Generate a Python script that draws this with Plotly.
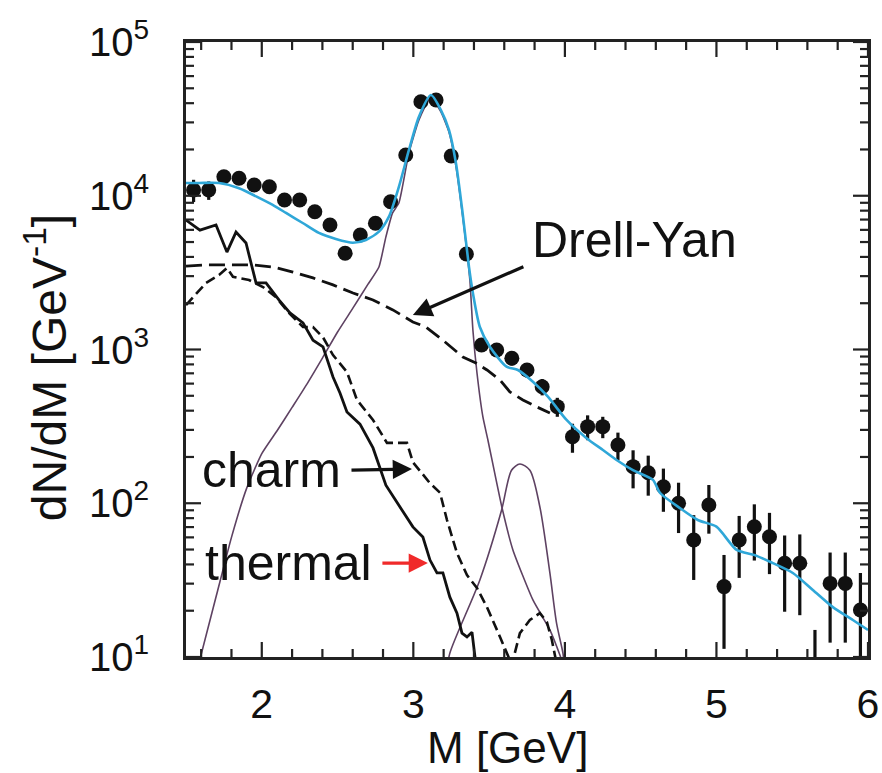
import plotly.graph_objects as go
import numpy as np

# ---- measured dimuon spectrum ----
m_data = [1.55, 1.65, 1.75, 1.85, 1.95, 2.05, 2.15, 2.25, 2.35, 2.45, 2.55, 2.65, 2.75, 2.85,
          2.95, 3.05, 3.15, 3.25, 3.35, 3.45, 3.55, 3.65, 3.75, 3.85, 3.95, 4.05, 4.15, 4.25,
          4.35, 4.45, 4.55, 4.65, 4.75, 4.85, 4.95, 5.05, 5.15, 5.25, 5.35, 5.45, 5.55, 5.65,
          5.75, 5.85, 5.95]
n_data = [10900, 10900, 13300, 13000, 11750, 11450, 9380, 9380, 7870, 6450, 4230, 5550, 6620, 9140,
          18400, 40900, 41950, 18150, 4180, 1069, 993, 877, 736, 573, 425, 271, 315, 315,
          239, 173, 158, 128, 100, 57.7, 97.4, 28.7, 57.7, 70.4, 60.6, 40.7, 40.7, 8,
          30.1, 30.1, 20.2]
n_err = [1800, 1500, 900, 800, 600, 600, 500, 500, 450, 400, 350, 350, 400, 500,
         900, 1500, 1500, 900, 300, 100, 90, 90, 80, 70, 60, 58, 58, 50,
         49, 48, 46, 40, 36, 26, 34, 17.4, 25, 28, 26, 21, 22, 7,
         17.7, 17.7, 15]

# ---- total fit ----
m_total = [1.50, 1.586, 1.718, 1.85, 1.966, 2.072, 2.16, 2.27, 2.377, 2.489, 2.60, 2.687, 2.773,
           2.839, 2.905, 2.971, 3.037, 3.116, 3.182, 3.235, 3.281, 3.325, 3.367, 3.393, 3.439,
           3.505, 3.615, 3.69, 3.789, 3.888, 4.011, 4.143, 4.251, 4.341, 4.449, 4.581, 4.627,
           4.759, 4.877, 5.0, 5.133, 5.253, 5.372, 5.504, 5.636, 5.768, 5.90, 6.0]
n_total = [12100, 12100, 12100, 11200, 9860, 8710, 7730, 6650, 5730, 5240, 4950, 5160, 5840,
           7310, 11460, 19850, 32700, 45200, 36100, 26800, 16350, 7730, 3460, 2330, 1400,
           1042, 773, 736, 617, 493, 348, 265, 222, 191, 164, 142, 117,
           93, 77.8, 70.4, 49.7, 46, 40.8, 35.2, 27.3, 21.1, 17.4, 15]

# ---- J/psi line shape ----
m_jpsi = [1.59, 1.70, 1.80, 1.90, 2.00, 2.10, 2.20, 2.30, 2.40, 2.50, 2.60, 2.70, 2.773, 2.819, 2.863,
          2.905, 2.971, 3.037, 3.116, 3.182, 3.235, 3.281, 3.327, 3.373, 3.393, 3.42, 3.459, 3.492,
          3.584, 3.657, 3.789, 3.901, 3.967, 4.0]
n_jpsi = [9.5, 25, 60, 125, 210, 295, 420, 600, 880, 1300, 1850, 2650, 3440, 5400, 7730,
          9000, 19000, 31100, 43800, 35100, 26000, 15600, 7160, 2830, 1340, 703, 364, 258,
          94.6, 49.7, 23.5, 15, 10.3, 8.3]

# ---- psi' line shape ----
m_psi2 = [3.22, 3.241, 3.439, 3.582, 3.648, 3.703, 3.769, 3.835, 3.901, 3.945, 3.987, 4.0]
n_psi2 = [8, 10.6, 31.7, 90, 164, 180, 164, 94.6, 35.2, 16.6, 10.6, 8]

# ---- thermal (solid) ----
m_therm = [1.50, 1.592, 1.698, 1.770, 1.830, 1.896, 1.962, 2.028, 2.113, 2.186, 2.272, 2.338,
           2.404, 2.470, 2.516, 2.562, 2.648, 2.734, 2.819, 2.912, 2.997, 3.063, 3.110, 3.156,
           3.195, 3.241, 3.288, 3.321, 3.354, 3.387, 3.413]
n_therm = [6950, 5980, 6450, 4300, 5800, 4930, 2710, 2710, 2100, 1730, 1490, 1150,
           1040, 662, 521, 392, 327, 229, 131, 94.6, 70.2, 60.3, 42.7, 35.2,
           35.2, 24.5, 19.3, 14.3, 13.5, 14.5, 8.9]

# ---- open charm (dashed) ----
m_charm = [1.50, 1.546, 1.632, 1.718, 1.770, 1.810, 1.916, 2.008, 2.094, 2.179, 2.272, 2.338,
           2.404, 2.470, 2.562, 2.628, 2.734, 2.826, 2.912, 2.958, 2.997, 3.110, 3.176, 3.222,
           3.288, 3.354, 3.420, 3.486, 3.572, 3.618, 3.650, 3.703, 3.769, 3.835, 3.881, 3.914,
           3.941]
n_charm = [1945, 2190, 2710, 3050, 3390, 2970, 2830, 2550, 2190, 1730, 1400, 1400,
           1200, 920, 714, 470, 348, 247, 247, 247, 185, 135, 117, 77.8,
           47.4, 34.1, 28.1, 21.1, 13.5, 10.6, 8.9, 14.3, 17.4, 19.3, 16.9, 12.9,
           9.5]

# ---- Drell-Yan (dashed) ----
m_dy = [1.50, 1.632, 1.784, 1.942, 2.074, 2.206, 2.338, 2.470, 2.602, 2.734, 2.865, 2.997,
        3.083, 3.195, 3.327, 3.413, 3.486, 3.572, 3.637, 3.723, 3.815, 3.901]
n_dy = [3490, 3550, 3550, 3550, 3440, 3190, 2920, 2630, 2330, 2100, 1810, 1510,
        1400, 1150, 893, 817, 736, 634, 530, 470, 423, 386]

# ---- axis ticks ----
x_range = [1.5, 6.0]
y_range_log = [1, 5]
x_major = [2, 3, 4, 5, 6]
x_minor = [round(1.6 + 0.2 * i, 1) for i in range(22) if round(1.6 + 0.2 * i, 1) not in x_major]
y_major = [10, 100, 1000, 10000, 100000]
y_minor = [d * 10 ** e for e in range(1, 5) for d in range(2, 10)]
y_ticktext = ["10<sup>1</sup>", "10<sup>2</sup>", "10<sup>3</sup>", "10<sup>4</sup>", "10<sup>5</sup>"]

W, H = 882, 773
MARGIN = dict(l=186, r=14, t=42, b=116)

FONT = "Liberation Sans, Arial, sans-serif"
INK = "#111111"
FRAME = "#222222"
CYAN = "#2fa7d8"
THIN = "#5e4262"

fig = go.Figure()

fig.add_trace(go.Scatter(x=m_jpsi, y=n_jpsi, mode="lines", line=dict(color=THIN, width=1.6, shape="spline", smoothing=0.5)))
fig.add_trace(go.Scatter(x=m_psi2, y=n_psi2, mode="lines", line=dict(color=THIN, width=1.6, shape="spline", smoothing=0.8)))
fig.add_trace(go.Scatter(x=m_dy, y=n_dy, mode="lines", line=dict(color=INK, width=2.8, dash="16px,7px")))
fig.add_trace(go.Scatter(x=m_charm, y=n_charm, mode="lines", line=dict(color=INK, width=2.6, dash="10px,5px")))
fig.add_trace(go.Scatter(x=m_therm, y=n_therm, mode="lines", line=dict(color=INK, width=2.8)))
fig.add_trace(go.Scatter(x=m_data, y=n_data, mode="markers",
                         marker=dict(color=INK, size=15, line=dict(width=0)),
                         error_y=dict(type="data", array=n_err, color=INK, thickness=3.2, width=0)))
fig.add_trace(go.Scatter(x=m_total, y=n_total, mode="lines", line=dict(color=CYAN, width=2.6, shape="spline", smoothing=0.7)))

L10 = np.log10

# inward tick marks on all four sides, drawn as short line segments
x_per_px = (x_range[1] - x_range[0]) / (W - MARGIN["l"] - MARGIN["r"])
ylog_per_px = (y_range_log[1] - y_range_log[0]) / (H - MARGIN["t"] - MARGIN["b"])
tx, ty = [], []
for v, n in [(v, 15) for v in x_major] + [(v, 8) for v in x_minor]:
    tx += [v, v, None, v, v, None]
    ty += [10 ** y_range_log[0], 10 ** (y_range_log[0] + n * ylog_per_px), None,
           10 ** y_range_log[1], 10 ** (y_range_log[1] - n * ylog_per_px), None]
for v, n in [(v, 15) for v in y_major] + [(v, 8) for v in y_minor]:
    tx += [x_range[0], x_range[0] + n * x_per_px, None, x_range[1], x_range[1] - n * x_per_px, None]
    ty += [v, v, None, v, v, None]
fig.add_trace(go.Scatter(x=tx, y=ty, mode="lines", line=dict(color=FRAME, width=2.2),
                         hoverinfo="skip", connectgaps=False))


def arrow(x0, y0, x1, y1, color):
    fig.add_annotation(x=x1, y=L10(y1), ax=x0, ay=L10(y0), xref="x", yref="y", axref="x", ayref="y",
                       text="", showarrow=True, arrowhead=2, arrowsize=1.2, arrowwidth=3.2,
                       arrowcolor=color, standoff=0, startstandoff=0)


arrow(3.736, 3490, 2.997, 1675, INK)
arrow(2.582, 164, 2.991, 167, INK)
arrow(2.786, 40.8, 3.096, 40.8, "#f02a2a")


def label(text, x, y):
    fig.add_annotation(x=x, y=L10(y), xref="x", yref="y", text=text, showarrow=False,
                       xanchor="center", yanchor="middle", font=dict(family=FONT, size=50, color=INK))


label("Drell-Yan", 4.46, 5150)
label("charm", 2.061, 164)
label("thermal", 2.173, 40.8)

# axis titles
fig.add_annotation(x=-0.205, y=0.47, xref="paper", yref="paper", text="dN/dM [GeV<sup>-1</sup>]",
                   textangle=-90, showarrow=False, xanchor="center", yanchor="middle",
                   font=dict(family=FONT, size=48, color=INK))
fig.add_annotation(x=0.472, y=-0.147, xref="paper", yref="paper", text="M [GeV]",
                   showarrow=False, xanchor="center", yanchor="middle",
                   font=dict(family=FONT, size=44, color=INK))

fig.update_xaxes(range=x_range, tickmode="array", tickvals=x_major, automargin=False,
                 showline=True, linecolor=FRAME, linewidth=3, mirror=True, ticks="",
                 showgrid=False, zeroline=False, ticklabelstandoff=9,
                 tickfont=dict(family=FONT, size=41, color=INK))

fig.update_yaxes(type="log", range=y_range_log, tickmode="array", tickvals=y_major, ticktext=y_ticktext,
                 automargin=False, showline=True, linecolor=FRAME, linewidth=3, mirror=True, ticks="",
                 showgrid=False, zeroline=False, ticklabelstandoff=26,
                 tickfont=dict(family=FONT, size=40, color=INK))

fig.update_layout(width=W, height=H, margin=MARGIN,
                  paper_bgcolor="white", plot_bgcolor="white", showlegend=False)

fig.write_html("out.html")
